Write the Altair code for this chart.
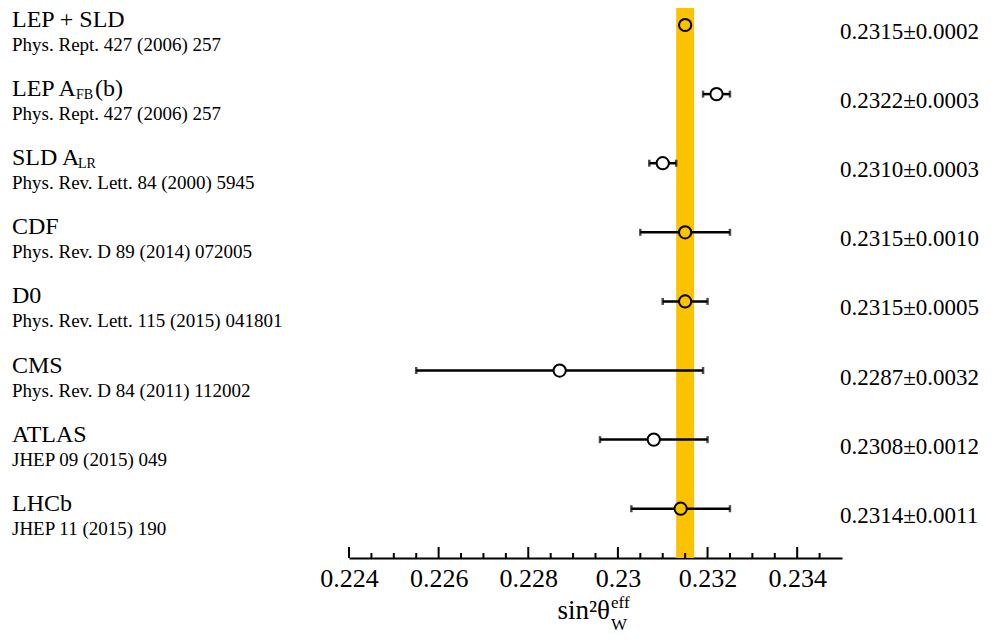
import altair as alt
import pandas as pd

# ---- data ----
names = ["LEP + SLD", "LEP A", "SLD A", "CDF", "D0", "CMS", "ATLAS", "LHCb"]
subs = ["", "FB", "LR", "", "", "", "", ""]
suffixes = ["", "(b)", "", "", "", "", "", ""]
refs = [
    "Phys. Rept. 427 (2006) 257",
    "Phys. Rept. 427 (2006) 257",
    "Phys. Rev. Lett. 84 (2000) 5945",
    "Phys. Rev. D 89 (2014) 072005",
    "Phys. Rev. Lett. 115 (2015) 041801",
    "Phys. Rev. D 84 (2011) 112002",
    "JHEP 09 (2015) 049",
    "JHEP 11 (2015) 190",
]
values = [0.2315, 0.2322, 0.2310, 0.2315, 0.2315, 0.2287, 0.2308, 0.2314]
errors = [0.0002, 0.0003, 0.0003, 0.0010, 0.0005, 0.0032, 0.0012, 0.0011]
major_ticks = [0.224, 0.226, 0.228, 0.230, 0.232, 0.234]
minor_ticks = [0.2245, 0.2250, 0.2255, 0.2265, 0.2270, 0.2275, 0.2285, 0.2290,
               0.2295, 0.2305, 0.2310, 0.2315, 0.2325, 0.2330, 0.2335, 0.2345]
x_domain = [0.224, 0.235]
title_main, title_sup, title_sub = "sin\u00b2\u03b8", "eff", "W"

band_c, band_h = values[0], errors[0]

df = pd.DataFrame({
    "idx": list(range(len(names))),
    "name": names, "sub": subs, "suffix": suffixes, "ref": refs,
    "val": values, "err": errors,
})
df["lo"] = df["val"] - df["err"]
df["hi"] = df["val"] + df["err"]
df["label"] = [f"{v:.4f}\u00b1{e:.4f}" for v, e in zip(values, errors)]

# ---- style ----
W, H = 493, 547
SERIF = "Liberation Serif"
BAND = "#FBC200"
LEFT_X = -337
RIGHT_X = 491

xaxis = alt.Axis(values=major_ticks, format=".3~f", ticks=False, grid=False,
                 domainColor="black", domainWidth=2, labelFont=SERIF,
                 labelFontSize=26, labelColor="black", labelPadding=7,
                 labelFlush=False, labelOverlap=False, title=None)
xscale = alt.Scale(domain=x_domain, nice=False, zero=False)
yscale = alt.Scale(domain=[-0.2026, 7.713], nice=False, zero=False, reverse=True)


def X(field):
    return alt.X(f"{field}:Q", scale=xscale, axis=xaxis)


def Y():
    return alt.Y("idx:Q", scale=yscale, axis=None)


base = alt.Chart(df)

band = alt.Chart(pd.DataFrame({"c": [band_c], "h": [band_h]})).transform_calculate(
    b0="datum.c - datum.h", b1="datum.c + datum.h"
).mark_rect(color=BAND).encode(
    x=X("b0"), x2="b1:Q", y=alt.value(-6), y2=alt.value(H)
)

errs = base.transform_filter("datum.err > 0.00021")
err_line = errs.mark_rule(color="black", strokeWidth=2.5).encode(
    x=X("lo"), x2="hi:Q", y=Y()
)
cap_lo = errs.mark_tick(color="black", thickness=2.5, size=7, orient="vertical").encode(
    x=X("lo"), y=Y()
)
cap_hi = errs.mark_tick(color="black", thickness=2.5, size=7, orient="vertical").encode(
    x=X("hi"), y=Y()
)

points = base.transform_calculate(
    fillc=f"abs(datum.val - {band_c}) <= {band_h + 0.00001} ? '{BAND}' : 'white'"
).mark_point(shape="circle", size=150, strokeWidth=2, opacity=1,
             filled=False).encode(
    x=X("val"), y=Y(),
    fill=alt.Fill("fillc:N", scale=None),
    stroke=alt.value("black"),
)

name_txt = base.mark_text(align="left", baseline="alphabetic", font=SERIF,
                          fontSize=24, dy=2, color="black").encode(
    x=alt.value(LEFT_X), y=Y(), text="name:N"
)
ref_txt = base.mark_text(align="left", baseline="alphabetic", font=SERIF,
                         fontSize=19, dy=26, color="black").encode(
    x=alt.value(LEFT_X), y=Y(), text="ref:N"
)
val_txt = base.mark_text(align="left", baseline="middle", font=SERIF,
                         fontSize=23, dy=7, color="black").encode(
    x=alt.value(RIGHT_X), y=Y(), text="label:N"
)

# subscripts / suffixes (horizontal offsets are text-width style constants)
sub_offsets = {"LEP A": (64, 83), "SLD A": (66, 85)}
extra = []
for i, nm in enumerate(names):
    if subs[i]:
        d_sub, d_suf = sub_offsets[nm]
        rowc = base.transform_filter(alt.datum.idx == i)
        extra.append(rowc.mark_text(align="left", baseline="alphabetic", font=SERIF,
                                    fontSize=14, dx=d_sub, dy=5, color="black").encode(
            x=alt.value(LEFT_X), y=Y(), text="sub:N"))
        if suffixes[i]:
            extra.append(rowc.mark_text(align="left", baseline="alphabetic", font=SERIF,
                                        fontSize=24, dx=d_suf, dy=2, color="black").encode(
                x=alt.value(LEFT_X), y=Y(), text="suffix:N"))

major = alt.Chart(pd.DataFrame({"t": major_ticks})).mark_rule(
    color="black", strokeWidth=2).encode(x=X("t"), y=alt.value(H), y2=alt.value(H - 11))
minor = alt.Chart(pd.DataFrame({"t": minor_ticks})).mark_rule(
    color="black", strokeWidth=2).encode(x=X("t"), y=alt.value(H), y2=alt.value(H - 5))

tdf = pd.DataFrame({"a": [title_main], "b": [title_sup], "c": [title_sub]})
t_main = alt.Chart(tdf).mark_text(align="right", baseline="alphabetic", font=SERIF,
                                  fontSize=27, color="black").encode(
    x=alt.value(261), y=alt.value(608), text="a:N")
t_sup = alt.Chart(tdf).mark_text(align="left", baseline="alphabetic", font=SERIF,
                                 fontSize=17, color="black").encode(
    x=alt.value(262), y=alt.value(597), text="b:N")
t_sub = alt.Chart(tdf).mark_text(align="left", baseline="alphabetic", font=SERIF,
                                 fontSize=17, color="black").encode(
    x=alt.value(262), y=alt.value(619), text="c:N")

chart = alt.layer(
    band, err_line, cap_lo, cap_hi, points, major, minor,
    name_txt, ref_txt, val_txt, *extra, t_main, t_sup, t_sub
).properties(
    width=W, height=H,
    autosize=alt.AutoSizeParams(type="none"),
    padding={"left": 341, "top": 3, "right": 141, "bottom": 78},
    background="white",
).configure_view(stroke=None)

chart.save("out.html", embed_options={"renderer": "svg", "actions": False})
